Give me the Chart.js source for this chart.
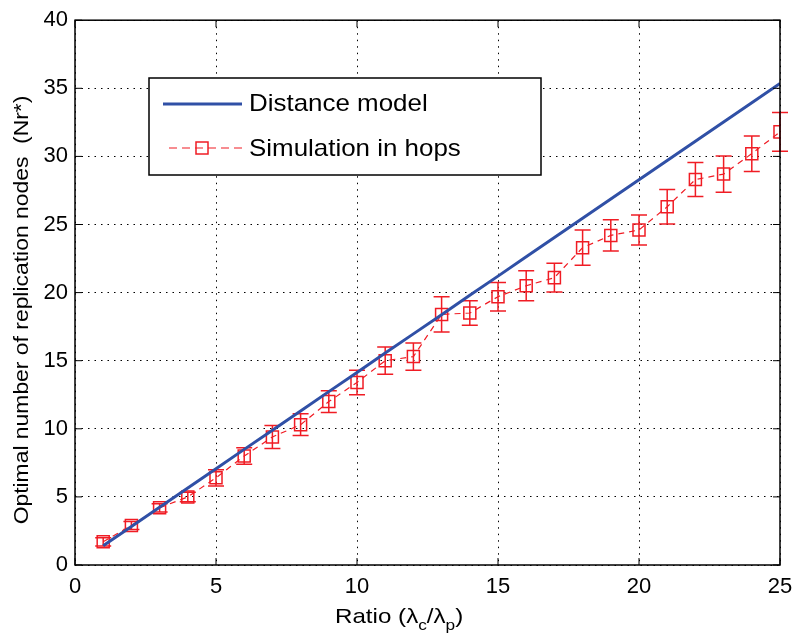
<!DOCTYPE html>
<html lang="en">
<head>
    <meta charset="UTF-8">
    <title>Replication nodes vs ratio</title>
    <style>
        html, body { margin: 0; padding: 0; background: #fff; }
        .chart-box { width: 792px; height: 642px; position: relative; }
    </style>
</head>
<body>
    <div class="chart-box">
        <canvas id="nodesChart" width="792" height="642"></canvas>
    </div>
    <script src="https://cdn.jsdelivr.net/npm/chart.js"></script>
    <script>
        // values
        const ratios = [1, 2, 3, 4, 5, 6, 7, 8, 9, 10, 11, 12, 13, 14, 15, 16, 17, 18, 19, 20, 21, 22, 23, 24, 25];
        const distanceModel = [1.41, 2.83, 4.24, 5.66, 7.07, 8.49, 9.90, 11.31, 12.73, 14.14, 15.56, 16.97, 18.38,
            19.80, 21.21, 22.63, 24.04, 25.46, 26.87, 28.28, 29.70, 31.11, 32.53, 33.94, 35.36];
        const simHops = [1.7, 2.9, 4.2, 5.0, 6.4, 8.0, 9.4, 10.3, 12.0, 13.4, 15.0, 15.3, 18.4, 18.5, 19.7,
            20.5, 21.1, 23.3, 24.2, 24.6, 26.3, 28.3, 28.7, 30.2, 31.8];
        const simError = [0.3, 0.3, 0.3, 0.35, 0.6, 0.6, 0.85, 0.8, 0.8, 0.9, 1.0, 1.0, 1.3, 0.9, 1.05,
            1.1, 1.05, 1.3, 1.15, 1.1, 1.27, 1.25, 1.33, 1.3, 1.42];
        const xTicks = [0, 5, 10, 15, 20, 25];
        const yTicks = [0, 5, 10, 15, 20, 25, 30, 35, 40];

        const blue = '#3050a6';
        const red = '#f01c24';
        const font = '"Liberation Sans", Arial, Helvetica, sans-serif';

        // text in the picture is a bit wider than the font, so stretch it sideways
        function wideText(ctx, text, x, y, stretch) {
            ctx.save();
            ctx.translate(x, y);
            ctx.scale(stretch, 1);
            ctx.fillText(text, 0, 0);
            ctx.restore();
            return ctx.measureText(text).width * stretch;
        }

        // error bars, box, inside ticks, axis titles and legend
        const matlabLook = {
            id: 'matlabLook',
            beforeDatasetsDraw(chart) {
                const { ctx, scales: { x, y } } = chart;
                ctx.save();
                ctx.strokeStyle = red;
                ctx.lineWidth = 1.5;
                ratios.forEach((r, i) => {
                    const px = x.getPixelForValue(r);
                    const top = y.getPixelForValue(simHops[i] + simError[i]);
                    const bot = y.getPixelForValue(simHops[i] - simError[i]);
                    ctx.beginPath();
                    ctx.moveTo(px, top); ctx.lineTo(px, bot);
                    ctx.moveTo(px - 8, top); ctx.lineTo(px + 8, top);
                    ctx.moveTo(px - 8, bot); ctx.lineTo(px + 8, bot);
                    ctx.stroke();
                });
                ctx.restore();
            },
            afterDraw(chart) {
                const { ctx, chartArea: a, scales: { x, y } } = chart;
                ctx.save();
                // box
                ctx.strokeStyle = '#000';
                ctx.lineWidth = 1.5;
                ctx.strokeRect(a.left, a.top, a.right - a.left, a.bottom - a.top);
                // tick marks pointing inside
                ctx.lineWidth = 1;
                ctx.beginPath();
                xTicks.forEach(v => {
                    const px = x.getPixelForValue(v);
                    ctx.moveTo(px, a.bottom); ctx.lineTo(px, a.bottom - 7);
                    ctx.moveTo(px, a.top); ctx.lineTo(px, a.top + 7);
                });
                yTicks.forEach(v => {
                    const py = y.getPixelForValue(v);
                    ctx.moveTo(a.left, py); ctx.lineTo(a.left + 7, py);
                    ctx.moveTo(a.right, py); ctx.lineTo(a.right - 7, py);
                });
                ctx.stroke();

                // y title
                ctx.fillStyle = '#000';
                ctx.font = '21px ' + font;
                ctx.textAlign = 'center';
                ctx.textBaseline = 'middle';
                ctx.save();
                ctx.translate(22, 310);
                ctx.rotate(-Math.PI / 2);
                ctx.scale(1.09, 1);
                ctx.fillText('Optimal number of replication nodes  (Nr*)', 0, 0);
                ctx.restore();

                // x title with subscripts
                ctx.textAlign = 'left';
                ctx.textBaseline = 'alphabetic';
                let cx = 335;
                const base = 623;
                const parts = [['Ratio (\u03bb', 21, 0], ['c', 15, 7], ['/\u03bb', 21, 0], ['p', 15, 7], [')', 21, 0]];
                parts.forEach(([t, size, drop]) => {
                    ctx.font = size + 'px ' + font;
                    cx += wideText(ctx, t, cx, base + drop, 1.15);
                });

                // legend
                const lx = 149, ly = 78, lw = 392, lh = 97;
                ctx.fillStyle = '#fff';
                ctx.fillRect(lx, ly, lw, lh);
                ctx.strokeStyle = '#000';
                ctx.lineWidth = 1.5;
                ctx.strokeRect(lx, ly, lw, lh);

                ctx.strokeStyle = blue;
                ctx.lineWidth = 3;
                ctx.beginPath();
                ctx.moveTo(163, 104); ctx.lineTo(242, 104);
                ctx.stroke();

                ctx.strokeStyle = red;
                ctx.lineWidth = 1.2;
                ctx.setLineDash([8, 5]);
                ctx.beginPath();
                ctx.moveTo(169, 148); ctx.lineTo(242, 148);
                ctx.stroke();
                ctx.setLineDash([]);
                ctx.lineWidth = 1.5;
                ctx.strokeRect(196, 142, 12, 12);

                ctx.fillStyle = '#000';
                ctx.font = '24px ' + font;
                ctx.textBaseline = 'middle';
                wideText(ctx, 'Distance model', 249, 104, 1.08);
                wideText(ctx, 'Simulation in hops', 249, 149, 1.08);
                ctx.restore();
            }
        };

        const ctx = document.getElementById('nodesChart').getContext('2d');
        const nodesChart = new Chart(ctx, {
            type: 'line',
            data: {
                datasets: [
                    {
                        label: 'Distance model',
                        data: ratios.map((r, i) => ({ x: r, y: distanceModel[i] })),
                        borderColor: blue,
                        borderWidth: 3,
                        pointRadius: 0,
                        fill: false
                    },
                    {
                        label: 'Simulation in hops',
                        data: ratios.map((r, i) => ({ x: r, y: simHops[i] })),
                        borderColor: red,
                        borderWidth: 1.2,
                        borderDash: [6, 5],
                        pointStyle: 'rect',
                        pointRadius: 8.5,
                        pointBorderWidth: 1.5,
                        pointBorderColor: red,
                        pointBackgroundColor: 'rgba(0,0,0,0)',
                        fill: false
                    }
                ]
            },
            options: {
                responsive: false,
                animation: false,
                layout: { padding: { top: 14, right: 12, left: 0, bottom: 0 } },
                plugins: {
                    legend: { display: false },
                    title: { display: false },
                    tooltip: { enabled: false }
                },
                scales: {
                    x: {
                        type: 'linear',
                        min: 0,
                        max: 25,
                        afterBuildTicks: scale => { scale.ticks = xTicks.map(v => ({ value: v })); },
                        afterFit: scale => { scale.height = 77; scale.paddingLeft = 0; scale.paddingRight = 0; },
                        grid: { color: '#000', lineWidth: 1, drawTicks: false },
                        border: { display: false, dash: [1.5, 5] },
                        ticks: { color: '#000', font: { size: 22, family: font }, padding: 9, maxRotation: 0 }
                    },
                    y: {
                        min: 0,
                        max: 40,
                        afterBuildTicks: scale => { scale.ticks = yTicks.map(v => ({ value: v })); },
                        afterFit: scale => { scale.width = 75; },
                        grid: { color: '#000', lineWidth: 1, drawTicks: false },
                        border: { display: false, dash: [1.5, 5] },
                        ticks: { color: '#000', font: { size: 22, family: font }, padding: 7 }
                    }
                }
            },
            plugins: [matlabLook]
        });
    </script>
</body>
</html>
